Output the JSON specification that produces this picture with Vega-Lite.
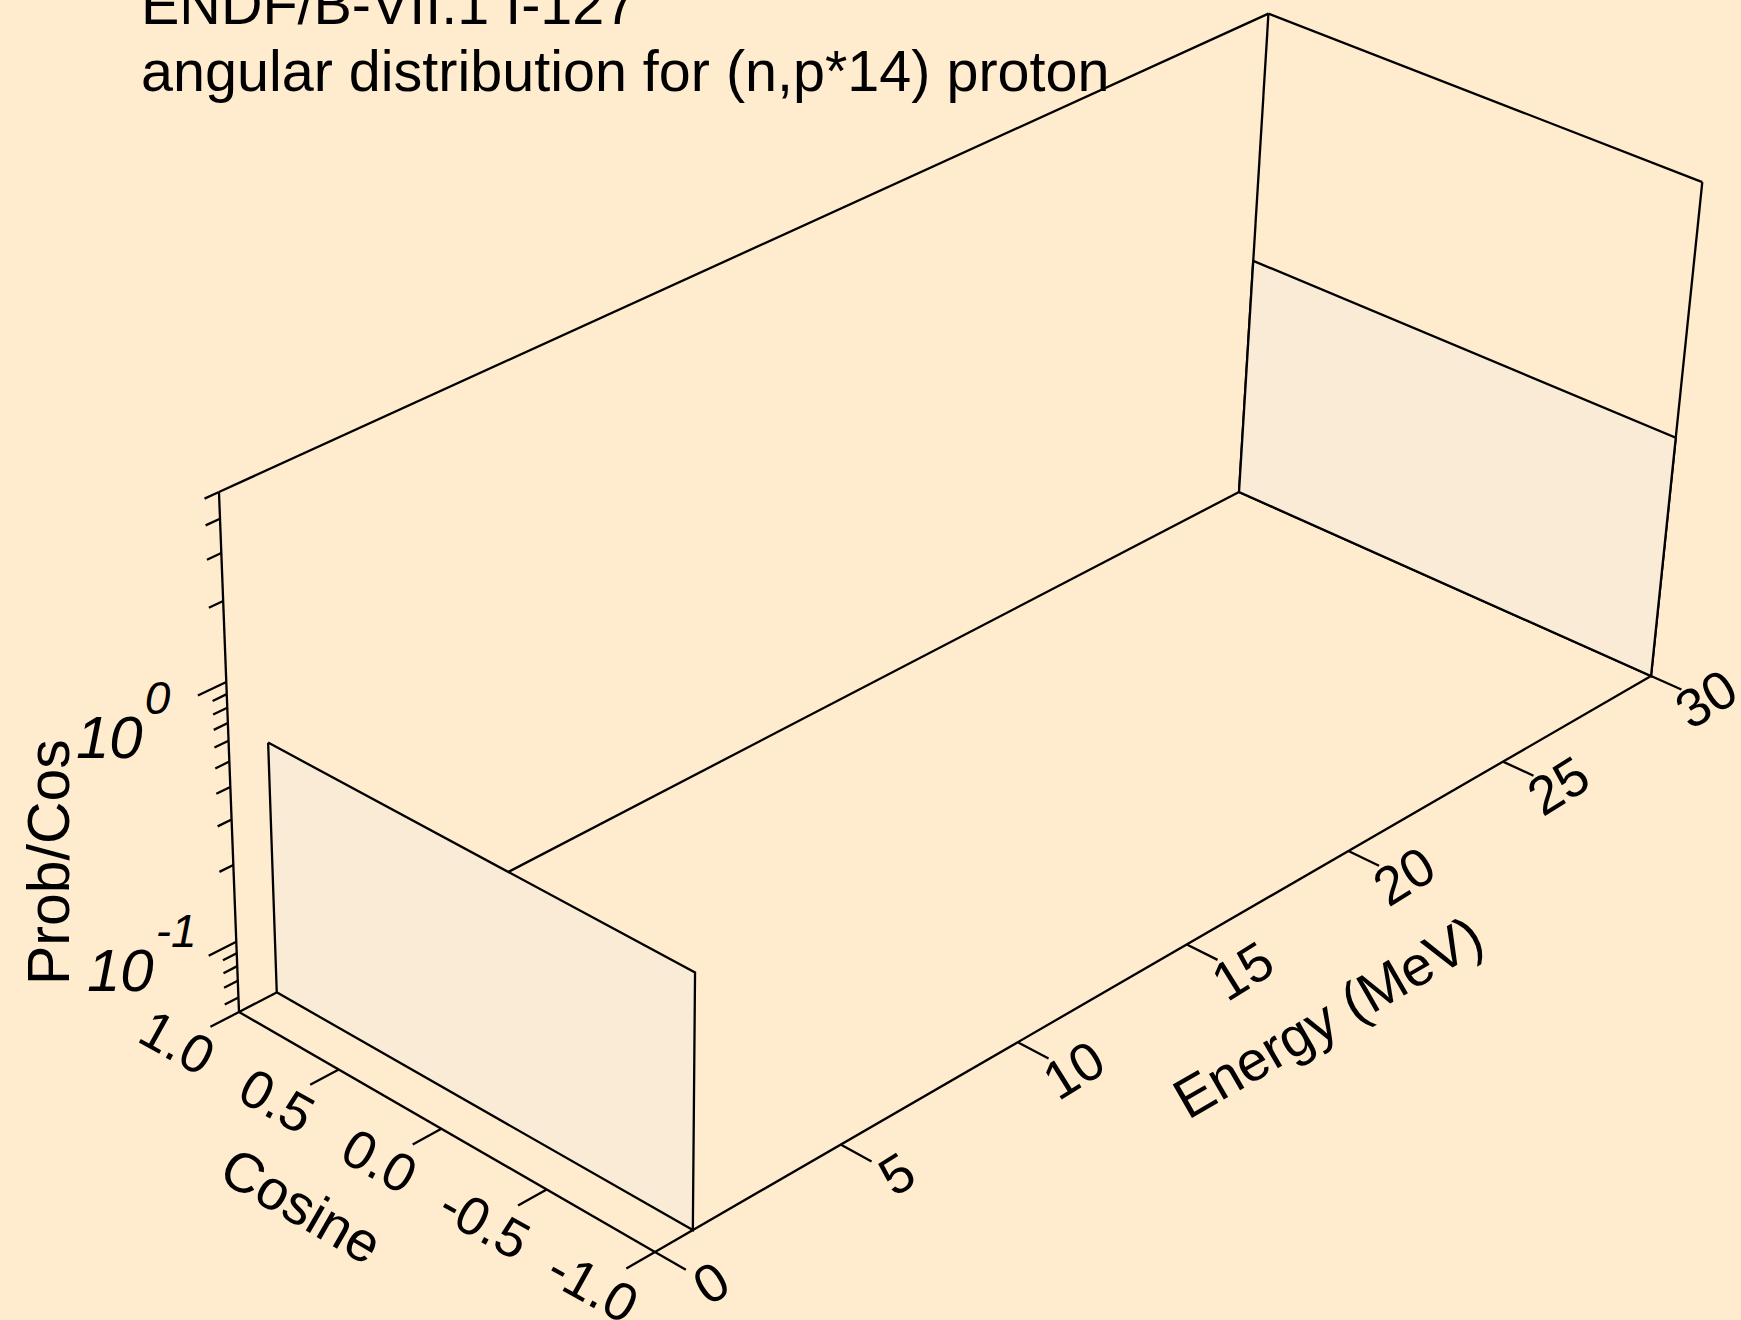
{
  "$schema": "https://vega.github.io/schema/vega-lite/v6.json",
  "width": 1741,
  "height": 1320,
  "padding": 0,
  "autosize": {"type": "none"},
  "background": "#FFEBCD",
  "config": {"view": {"stroke": null}, "font": "Liberation Sans"},
  "title": {
    "text": ["ENDF/B-VII.1 I-127", "angular distribution for (n,p*14) proton"],
    "anchor": "start",
    "frame": "group",
    "orient": "top",
    "offset": -148,
    "baseline": "alphabetic",
    "dx": 141,
    "fontSize": 57.5,
    "font": "Liberation Sans",
    "fontWeight": "normal",
    "color": "black",
    "lineHeight": 67
  },
  "datasets": {
    "edges": [
      {"edge": "e1", "k": 0, "cos": 1, "E": 0, "level": "floor"},
      {"edge": "e1", "k": 1, "cos": 1, "E": 30, "level": "floor"},
      {"edge": "e2", "k": 0, "cos": 1, "E": 0, "level": "floor"},
      {"edge": "e2", "k": 1, "cos": -1, "E": 0, "level": "floor"},
      {"edge": "e3", "k": 0, "cos": -1, "E": 0, "level": "floor"},
      {"edge": "e3", "k": 1, "cos": -1, "E": 30, "level": "floor"},
      {"edge": "e4", "k": 0, "cos": 1, "E": 30, "level": "floor"},
      {"edge": "e4", "k": 1, "cos": -1, "E": 30, "level": "floor"},
      {"edge": "e5", "k": 0, "cos": 1, "E": 0, "level": "floor"},
      {"edge": "e5", "k": 1, "cos": 1, "E": 0, "level": "top"},
      {"edge": "e6", "k": 0, "cos": 1, "E": 30, "level": "floor"},
      {"edge": "e6", "k": 1, "cos": 1, "E": 30, "level": "top"},
      {"edge": "e7", "k": 0, "cos": -1, "E": 30, "level": "floor"},
      {"edge": "e7", "k": 1, "cos": -1, "E": 30, "level": "top"},
      {"edge": "e8", "k": 0, "cos": 1, "E": 0, "level": "top"},
      {"edge": "e8", "k": 1, "cos": 1, "E": 30, "level": "top"},
      {"edge": "e9", "k": 0, "cos": 1, "E": 30, "level": "top"},
      {"edge": "e9", "k": 1, "cos": -1, "E": 30, "level": "top"}
    ],
    "panels": [
      {"E": 1, "k": 0, "cos": 1, "prob": 0.5},
      {"E": 1, "k": 1, "cos": -1, "prob": 0.5},
      {"E": 1, "k": 2, "cos": -1, "prob": null},
      {"E": 1, "k": 3, "cos": 1, "prob": null},
      {"E": 1, "k": 4, "cos": 1, "prob": 0.5},
      {"E": 30, "k": 0, "cos": 1, "prob": 0.5},
      {"E": 30, "k": 1, "cos": -1, "prob": 0.5},
      {"E": 30, "k": 2, "cos": -1, "prob": null},
      {"E": 30, "k": 3, "cos": 1, "prob": null},
      {"E": 30, "k": 4, "cos": 1, "prob": 0.5}
    ],
    "ticks": [
      {"axis": "E", "value": 0}, {"axis": "E", "value": 5}, {"axis": "E", "value": 10},
      {"axis": "E", "value": 15}, {"axis": "E", "value": 20}, {"axis": "E", "value": 25},
      {"axis": "E", "value": 30},
      {"axis": "cos", "value": 1}, {"axis": "cos", "value": 0.5}, {"axis": "cos", "value": 0},
      {"axis": "cos", "value": -0.5}, {"axis": "cos", "value": -1},
      {"axis": "z", "value": 0.06}, {"axis": "z", "value": 0.07}, {"axis": "z", "value": 0.08},
      {"axis": "z", "value": 0.09}, {"axis": "z", "value": 0.1}, {"axis": "z", "value": 0.2},
      {"axis": "z", "value": 0.3}, {"axis": "z", "value": 0.4}, {"axis": "z", "value": 0.5},
      {"axis": "z", "value": 0.6}, {"axis": "z", "value": 0.7}, {"axis": "z", "value": 0.8},
      {"axis": "z", "value": 0.9}, {"axis": "z", "value": 1}, {"axis": "z", "value": 2},
      {"axis": "z", "value": 3}, {"axis": "z", "value": 4}, {"axis": "z", "value": 5}
    ],
    "zlabels": [
      {"value": 1, "exp": "0"},
      {"value": 0.1, "exp": "-1"}
    ],
    "titles": [
      {"title": "Cosine"},
      {"title": "Energy (MeV)"},
      {"title": "Prob/Cos"}
    ]
  },
  "encoding": {
    "x": {"field": "sx", "type": "quantitative", "scale": {"domain": [0, 1741], "nice": false, "zero": false}, "axis": null},
    "y": {"field": "sy", "type": "quantitative", "scale": {"domain": [0, 1320], "nice": false, "zero": false, "reverse": true}, "axis": null}
  },
  "layer": [
    {
      "data": {"name": "edges"},
      "transform": [
        {"calculate": "(1-datum.cos)/2", "as": "u"},
        {"calculate": "datum.E/30", "as": "v"},
        {"calculate": "datum.level=='top'?1:0", "as": "w"},
        {"calculate": "1-0.0531*datum.u+0.138*datum.v-0.051*datum.w", "as": "D"},
        {"calculate": "(239+381.2*datum.u+1171*datum.v-31.2*datum.w)/datum.D", "as": "sx"},
        {"calculate": "(1012+173.5*datum.u-452.1*datum.v-545.1*datum.w)/datum.D", "as": "sy"}
      ],
      "mark": {"type": "line", "color": "black", "strokeWidth": 2.3},
      "encoding": {
        "detail": {"field": "edge"},
        "order": {"field": "k", "type": "quantitative"}
      }
    },
    {
      "data": {"name": "panels"},
      "transform": [
        {"filter": "datum.E==30"},
        {"calculate": "(1-datum.cos)/2", "as": "u"},
        {"calculate": "datum.E/30", "as": "v"},
        {"calculate": "datum.prob==null?0:(log(datum.prob)/LN10+1.28)/1.979", "as": "w"},
        {"calculate": "1-0.0531*datum.u+0.138*datum.v-0.051*datum.w", "as": "D"},
        {"calculate": "(239+381.2*datum.u+1171*datum.v-31.2*datum.w)/datum.D", "as": "sx"},
        {"calculate": "(1012+173.5*datum.u-452.1*datum.v-545.1*datum.w)/datum.D", "as": "sy"}
      ],
      "mark": {"type": "line", "fill": "#FAEBD7", "stroke": "black", "strokeWidth": 2.3},
      "encoding": {"order": {"field": "k", "type": "quantitative"}}
    },
    {
      "data": {"name": "panels"},
      "transform": [
        {"filter": "datum.E==1"},
        {"calculate": "(1-datum.cos)/2", "as": "u"},
        {"calculate": "datum.E/30", "as": "v"},
        {"calculate": "datum.prob==null?0:(log(datum.prob)/LN10+1.28)/1.979", "as": "w"},
        {"calculate": "1-0.0531*datum.u+0.138*datum.v-0.051*datum.w", "as": "D"},
        {"calculate": "(239+381.2*datum.u+1171*datum.v-31.2*datum.w)/datum.D", "as": "sx"},
        {"calculate": "(1012+173.5*datum.u-452.1*datum.v-545.1*datum.w)/datum.D", "as": "sy"}
      ],
      "mark": {"type": "line", "fill": "#FAEBD7", "stroke": "black", "strokeWidth": 2.3},
      "encoding": {"order": {"field": "k", "type": "quantitative"}}
    },
    {
      "data": {"name": "ticks"},
      "transform": [
        {"calculate": "[0, 1]", "as": "end"},
        {"flatten": ["end"]},
        {"calculate": "datum.axis + '_' + datum.value", "as": "id"},
        {"calculate": "datum.axis=='z' && (datum.value==0.1 || datum.value==1)", "as": "major"},
        {"calculate": "datum.axis=='E' ? 1+0.07*datum.end : datum.axis=='cos' ? (1-datum.value)/2 : 0", "as": "u"},
        {"calculate": "datum.axis=='E' ? datum.value/30 : datum.axis=='cos' ? -0.025*datum.end : -(datum.major?0.024:0.012)*datum.end", "as": "v"},
        {"calculate": "datum.axis=='z' ? (log(datum.value)/LN10+1.28)/1.979 : 0", "as": "w"},
        {"calculate": "1-0.0531*datum.u+0.138*datum.v-0.051*datum.w", "as": "D"},
        {"calculate": "(239+381.2*datum.u+1171*datum.v-31.2*datum.w)/datum.D", "as": "sx"},
        {"calculate": "(1012+173.5*datum.u-452.1*datum.v-545.1*datum.w)/datum.D", "as": "sy"}
      ],
      "mark": {"type": "line", "color": "black", "strokeWidth": 2.3},
      "encoding": {
        "detail": {"field": "id"},
        "order": {"field": "end", "type": "quantitative"}
      }
    },
    {
      "data": {"name": "ticks"},
      "transform": [
        {"filter": "datum.axis=='E'"},
        {"calculate": "format(datum.value, 'd')", "as": "label"},
        {"calculate": "1.13", "as": "u"},
        {"calculate": "datum.value/30", "as": "v"},
        {"calculate": "0", "as": "w"},
        {"calculate": "1-0.0531*datum.u+0.138*datum.v-0.051*datum.w", "as": "D"},
        {"calculate": "(239+381.2*datum.u+1171*datum.v-31.2*datum.w)/datum.D", "as": "sx"},
        {"calculate": "(1012+173.5*datum.u-452.1*datum.v-545.1*datum.w)/datum.D", "as": "sy"}
      ],
      "mark": {"type": "text", "fontSize": 54, "angle": 328, "align": "center", "baseline": "middle", "color": "black"},
      "encoding": {"text": {"field": "label"}}
    },
    {
      "data": {"name": "ticks"},
      "transform": [
        {"filter": "datum.axis=='cos'"},
        {"calculate": "replace(format(datum.value, '.1f'), '\u2212', '-')", "as": "label"},
        {"calculate": "(1-datum.value)/2", "as": "u"},
        {"calculate": "-0.055", "as": "v"},
        {"calculate": "0", "as": "w"},
        {"calculate": "1-0.0531*datum.u+0.138*datum.v-0.051*datum.w", "as": "D"},
        {"calculate": "(239+381.2*datum.u+1171*datum.v-31.2*datum.w)/datum.D", "as": "sx"},
        {"calculate": "(1012+173.5*datum.u-452.1*datum.v-545.1*datum.w)/datum.D", "as": "sy"}
      ],
      "mark": {"type": "text", "fontSize": 54, "angle": 29, "align": "center", "baseline": "middle", "color": "black"},
      "encoding": {"text": {"field": "label"}}
    },
    {
      "data": {"name": "zlabels"},
      "transform": [
        {"calculate": "0", "as": "u"},
        {"calculate": "-0.0708", "as": "v"},
        {"calculate": "0.0407+0.892*(log(datum.value)/LN10+1.28)/1.979", "as": "w"},
        {"calculate": "1-0.0531*datum.u+0.138*datum.v-0.051*datum.w", "as": "D"},
        {"calculate": "(239+381.2*datum.u+1171*datum.v-31.2*datum.w)/datum.D", "as": "sx"},
        {"calculate": "(1012+173.5*datum.u-452.1*datum.v-545.1*datum.w)/datum.D", "as": "sy"}
      ],
      "mark": {"type": "text", "text": "10", "fontSize": 60, "fontStyle": "italic", "align": "right", "baseline": "alphabetic", "dy": 20, "color": "black"}
    },
    {
      "data": {"name": "zlabels"},
      "transform": [
        {"calculate": "0", "as": "u"},
        {"calculate": "-0.0708", "as": "v"},
        {"calculate": "0.0407+0.892*(log(datum.value)/LN10+1.28)/1.979", "as": "w"},
        {"calculate": "1-0.0531*datum.u+0.138*datum.v-0.051*datum.w", "as": "D"},
        {"calculate": "(239+381.2*datum.u+1171*datum.v-31.2*datum.w)/datum.D", "as": "sx"},
        {"calculate": "(1012+173.5*datum.u-452.1*datum.v-545.1*datum.w)/datum.D", "as": "sy"}
      ],
      "mark": {"type": "text", "fontSize": 46, "fontStyle": "italic", "align": "left", "baseline": "alphabetic", "dx": 2, "dy": -24, "color": "black"},
      "encoding": {"text": {"field": "exp"}}
    },
    {
      "data": {"name": "titles"},
      "transform": [
        {"filter": "datum.title=='Cosine'"},
        {"calculate": "0.504", "as": "u"},
        {"calculate": "-0.123", "as": "v"},
        {"calculate": "0", "as": "w"},
        {"calculate": "1-0.0531*datum.u+0.138*datum.v-0.051*datum.w", "as": "D"},
        {"calculate": "(239+381.2*datum.u+1171*datum.v-31.2*datum.w)/datum.D", "as": "sx"},
        {"calculate": "(1012+173.5*datum.u-452.1*datum.v-545.1*datum.w)/datum.D", "as": "sy"}
      ],
      "mark": {"type": "text", "fontSize": 56, "angle": 30, "align": "center", "baseline": "middle", "color": "black"},
      "encoding": {"text": {"field": "title"}}
    },
    {
      "data": {"name": "titles"},
      "transform": [
        {"filter": "datum.title=='Energy (MeV)'"},
        {"calculate": "1.326", "as": "u"},
        {"calculate": "0.4973", "as": "v"},
        {"calculate": "0", "as": "w"},
        {"calculate": "1-0.0531*datum.u+0.138*datum.v-0.051*datum.w", "as": "D"},
        {"calculate": "(239+381.2*datum.u+1171*datum.v-31.2*datum.w)/datum.D", "as": "sx"},
        {"calculate": "(1012+173.5*datum.u-452.1*datum.v-545.1*datum.w)/datum.D", "as": "sy"}
      ],
      "mark": {"type": "text", "fontSize": 56, "angle": 330, "align": "center", "baseline": "middle", "color": "black"},
      "encoding": {"text": {"field": "title"}}
    },
    {
      "data": {"name": "titles"},
      "transform": [
        {"filter": "datum.title=='Prob/Cos'"},
        {"calculate": "0", "as": "u"},
        {"calculate": "-0.15", "as": "v"},
        {"calculate": "0.47", "as": "w"},
        {"calculate": "1-0.0531*datum.u+0.138*datum.v-0.051*datum.w", "as": "D"},
        {"calculate": "(239+381.2*datum.u+1171*datum.v-31.2*datum.w)/datum.D", "as": "sx"},
        {"calculate": "(1012+173.5*datum.u-452.1*datum.v-545.1*datum.w)/datum.D", "as": "sy"}
      ],
      "mark": {"type": "text", "fontSize": 59, "angle": 270, "align": "center", "baseline": "middle", "color": "black"},
      "encoding": {"text": {"field": "title"}}
    }
  ]
}
